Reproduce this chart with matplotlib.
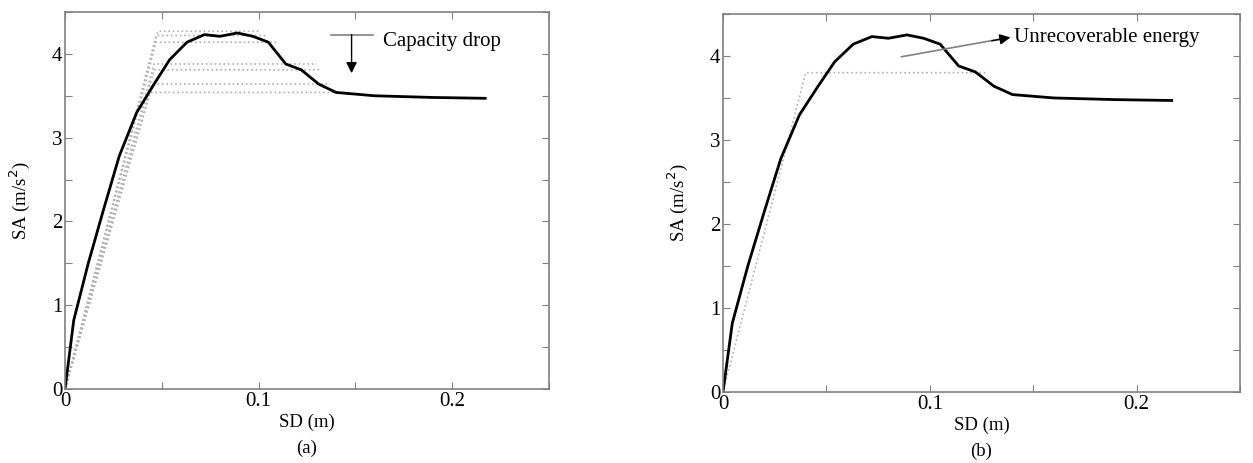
import numpy as np
import matplotlib.pyplot as plt

plt.rcParams['font.family'] = ['Liberation Serif', 'DejaVu Serif']

# capacity curve (SD in m, SA in m/s2)
sd = [0, 0.0045, 0.012, 0.020, 0.028, 0.037, 0.046, 0.054, 0.063, 0.072,
      0.080, 0.089, 0.097, 0.105, 0.114, 0.122, 0.131, 0.140, 0.160, 0.190, 0.217]
sa = [0, 0.82, 1.50, 2.15, 2.78, 3.30, 3.64, 3.93, 4.14, 4.23,
      4.21, 4.25, 4.21, 4.14, 3.88, 3.81, 3.64, 3.54, 3.50, 3.48, 3.47]

# bilinear idealisations in (a): yield SD, plateau SA, end SD
bl_yield = [0.048, 0.047, 0.047, 0.046, 0.046, 0.045, 0.044]
bl_sa = [4.27, 4.22, 4.14, 3.88, 3.81, 3.64, 3.54]
bl_end = [0.100, 0.104, 0.109, 0.130, 0.132, 0.137, 0.140]

# bilinear in (b)
b_sd = [0, 0.040, 0.127]
b_sa = [0, 3.80, 3.80]

xticks = [0, 0.05, 0.1, 0.15, 0.2, 0.25]
xticklabels = ['0', '', '0.1', '', '0.2', '']
yticks = [0, 0.5, 1, 1.5, 2, 2.5, 3, 3.5, 4, 4.5]
yticklabels = ['0', '', '1', '', '2', '', '3', '', '4', '']

fig = plt.figure(figsize=(12.53, 4.63), dpi=100)
ax1 = fig.add_axes([0.0519, 0.160, 0.3863, 0.814])
ax2 = fig.add_axes([0.5770, 0.153, 0.4126, 0.817])

grey = '#808080'
for ax, lab in [(ax1, '(a)'), (ax2, '(b)')]:
    ax.set_xlim(0, 0.25)
    ax.set_ylim(0, 4.5)
    ax.set_xticks(xticks)
    ax.set_xticklabels(xticklabels)
    ax.set_yticks(yticks)
    ax.set_yticklabels(yticklabels)
    ax.tick_params(direction='in', top=True, right=True, length=5, color=grey,
                   labelsize=15, pad=2)
    for s in ax.spines.values():
        s.set_color(grey)
        s.set_linewidth(1.2)
    ax.set_xlabel('SD (m)\n' + lab, fontsize=13.5, labelpad=2, linespacing=1.65)
    ax.set_ylabel('SA (m/s$^2$)', fontsize=13.5, labelpad=14)

# (a)
for xy, ys, xe in zip(bl_yield, bl_sa, bl_end):
    ax1.plot([0, xy, xe], [0, ys, ys], ':', color='#b0b0b0', lw=1.2)
ax1.plot(sd, sa, color='black', lw=2)
ax1.plot([0.1375, 0.159], [4.23, 4.23], color=grey, lw=1.2)
ax1.annotate('', xy=(0.148, 3.77), xytext=(0.148, 4.23),
             arrowprops=dict(arrowstyle='-|>', color='black', lw=1,
                             mutation_scale=16, shrinkA=0, shrinkB=0))
ax1.text(0.164, 4.15, 'Capacity drop', fontsize=15, va='center')

# (b)
ax2.plot(b_sd, b_sa, ':', color='#b0b0b0', lw=1.2)
ax2.plot(sd, sa, color='black', lw=2)
ax2.plot([0.0863, 0.134], [3.99, 4.20], color=grey, lw=1.2)
ax2.annotate('', xy=(0.139, 4.22), xytext=(0.130, 4.18),
             arrowprops=dict(arrowstyle='-|>', color='black', lw=1,
                             mutation_scale=16, shrinkA=0, shrinkB=0))
ax2.text(0.1405, 4.22, 'Unrecoverable energy', fontsize=15, va='center')

fig.savefig('out.png', dpi=100)
